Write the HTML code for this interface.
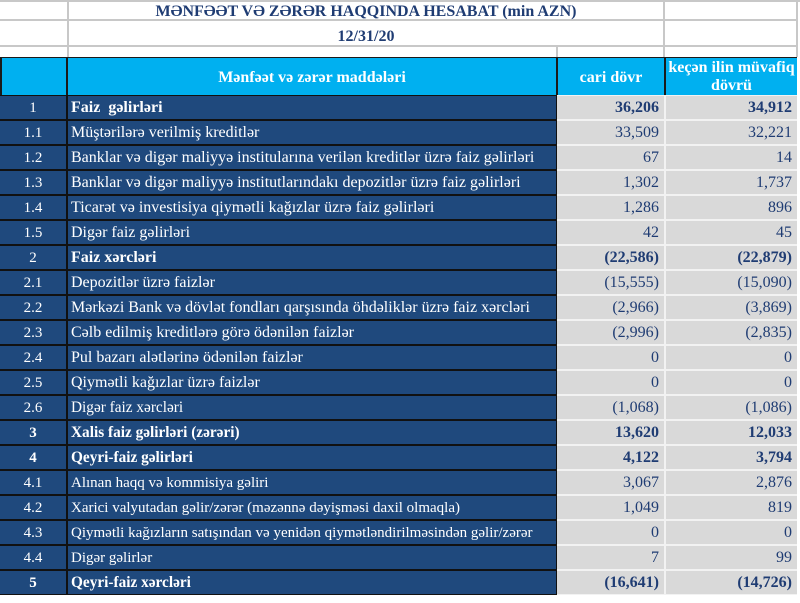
<!DOCTYPE html>
<html><head><meta charset="utf-8"><style>
*{margin:0;padding:0;box-sizing:border-box}
body{width:800px;height:603px;background:#fff;position:relative;overflow:hidden;font-family:"Liberation Serif",serif;}
.a{position:absolute}
.c1,.c2,.c3,.c4{position:absolute;height:23px;line-height:24px;font-size:16px;white-space:nowrap;overflow:hidden}
.c1{left:0;width:66px;background:#1f497d;color:#fff;text-align:center;font-size:15px}
.c2{left:68px;width:488px;background:#1f497d;color:#fff;padding-left:3px}
.c3{left:557px;width:107px;background:#d9d9d9;color:#1f3c73;text-align:right;padding-right:5px}
.c4{left:666px;width:131px;background:#d9d9d9;color:#1f3c73;text-align:right;padding-right:5px}
.b{font-weight:bold}
.s{font-size:15.3px}
.t{font-size:15px}
</style></head><body>
<div class="a" style="left:0;top:0;width:800px;height:2px;background:#c8c8c8"></div>
<div class="a" style="left:0;top:19px;width:797px;height:2px;background:#c8c8c8"></div>
<div class="a" style="left:0;top:45px;width:797px;height:2px;background:#c8c8c8"></div>
<div class="a" style="left:67px;top:0;width:2px;height:57px;background:#c8c8c8"></div>
<div class="a" style="left:663px;top:0;width:2px;height:57px;background:#c8c8c8"></div>
<div class="a" style="left:796px;top:0;width:2px;height:57px;background:#c8c8c8"></div>
<div class="a" style="left:556px;top:46px;width:2px;height:11px;background:#c8c8c8"></div>
<div class="a" style="left:69px;top:3px;width:594px;text-align:center;font-weight:bold;color:#1f3c73;font-size:16px">MƏNFƏƏT VƏ ZƏRƏR HAQQINDA HESABAT (min AZN)</div>
<div class="a" style="left:69px;top:28px;width:594px;text-align:center;font-weight:bold;color:#1f3c73;font-size:16px">12/31/20</div>
<div class="a" style="left:0;top:57px;width:797px;height:38px;background:#1a1a1a"></div>
<div class="a" style="left:2px;top:58px;width:64px;height:37px;background:#00b0f0"></div>
<div class="a" style="left:68px;top:58px;width:488px;height:37px;background:#00b0f0;color:#fff;font-weight:bold;font-size:16px;text-align:center;line-height:40px">Mənfəət və zərər maddələri</div>
<div class="a" style="left:558px;top:58px;width:106px;height:37px;background:#00b0f0;color:#fff;font-weight:bold;font-size:16px;text-align:center;line-height:40px">cari dövr</div>
<div class="a" style="left:666px;top:58px;width:131px;height:37px;background:#00b0f0;color:#fff;font-weight:bold;font-size:16px;text-align:center;line-height:18px;padding-top:1px">keçən ilin müvafiq<br>dövrü</div>
<div class="a" style="left:0;top:95px;width:557px;height:500px;background:#111"></div>
<div class="a" style="left:557px;top:95px;width:240px;height:500px;background:#f2f2f2"></div>

<div style="position:absolute;left:0;top:96px">
<div class="c1" style="top:0">1</div><div class="c2 b" style="top:0">Faiz&nbsp; gəlirləri</div><div class="c3 b" style="top:0">36,206</div><div class="c4 b" style="top:0">34,912</div>
<div class="c1" style="top:25px">1.1</div><div class="c2" style="top:25px">Müştərilərə verilmiş kreditlər</div><div class="c3" style="top:25px">33,509</div><div class="c4" style="top:25px">32,221</div>
<div class="c1" style="top:50px">1.2</div><div class="c2" style="top:50px">Banklar və digər maliyyə institularına verilən kreditlər üzrə faiz gəlirləri</div><div class="c3" style="top:50px">67</div><div class="c4" style="top:50px">14</div>
<div class="c1" style="top:75px">1.3</div><div class="c2" style="top:75px">Banklar və digər maliyyə institutlarındakı depozitlər üzrə faiz gəlirləri</div><div class="c3" style="top:75px">1,302</div><div class="c4" style="top:75px">1,737</div>
<div class="c1" style="top:100px">1.4</div><div class="c2" style="top:100px">Ticarət və investisiya qiymətli kağızlar üzrə faiz gəlirləri</div><div class="c3" style="top:100px">1,286</div><div class="c4" style="top:100px">896</div>
<div class="c1" style="top:125px">1.5</div><div class="c2" style="top:125px">Digər faiz gəlirləri</div><div class="c3" style="top:125px">42</div><div class="c4" style="top:125px">45</div>
<div class="c1" style="top:150px">2</div><div class="c2 b" style="top:150px">Faiz xərcləri</div><div class="c3 b" style="top:150px">(22,586)</div><div class="c4 b" style="top:150px">(22,879)</div>
<div class="c1" style="top:175px">2.1</div><div class="c2" style="top:175px">Depozitlər üzrə faizlər</div><div class="c3" style="top:175px">(15,555)</div><div class="c4" style="top:175px">(15,090)</div>
<div class="c1" style="top:200px">2.2</div><div class="c2" style="top:200px">Mərkəzi Bank və dövlət fondları qarşısında öhdəliklər üzrə faiz xərcləri</div><div class="c3" style="top:200px">(2,966)</div><div class="c4" style="top:200px">(3,869)</div>
<div class="c1" style="top:225px">2.3</div><div class="c2" style="top:225px">Cəlb edilmiş kreditlərə görə ödənilən faizlər</div><div class="c3" style="top:225px">(2,996)</div><div class="c4" style="top:225px">(2,835)</div>
<div class="c1" style="top:250px">2.4</div><div class="c2" style="top:250px">Pul bazarı alətlərinə ödənilən faizlər</div><div class="c3" style="top:250px">0</div><div class="c4" style="top:250px">0</div>
<div class="c1" style="top:275px">2.5</div><div class="c2" style="top:275px">Qiymətli kağızlar üzrə faizlər</div><div class="c3" style="top:275px">0</div><div class="c4" style="top:275px">0</div>
<div class="c1" style="top:300px">2.6</div><div class="c2 s" style="top:300px">Digər faiz xərcləri</div><div class="c3" style="top:300px">(1,068)</div><div class="c4" style="top:300px">(1,086)</div>
<div class="c1 b" style="top:325px">3</div><div class="c2 b s" style="top:325px">Xalis faiz gəlirləri (zərəri)</div><div class="c3 b" style="top:325px">13,620</div><div class="c4 b" style="top:325px">12,033</div>
<div class="c1 b" style="top:350px">4</div><div class="c2 b s" style="top:350px">Qeyri-faiz gəlirləri</div><div class="c3 b" style="top:350px">4,122</div><div class="c4 b" style="top:350px">3,794</div>
<div class="c1" style="top:375px">4.1</div><div class="c2 t" style="top:375px">Alınan haqq və kommisiya gəliri</div><div class="c3" style="top:375px">3,067</div><div class="c4" style="top:375px">2,876</div>
<div class="c1" style="top:400px">4.2</div><div class="c2 t" style="top:400px">Xarici valyutadan gəlir/zərər (məzənnə dəyişməsi daxil olmaqla)</div><div class="c3" style="top:400px">1,049</div><div class="c4" style="top:400px">819</div>
<div class="c1" style="top:425px">4.3</div><div class="c2 t" style="top:425px">Qiymətli kağızların satışından və yenidən qiymətləndirilməsindən gəlir/zərər</div><div class="c3" style="top:425px">0</div><div class="c4" style="top:425px">0</div>
<div class="c1" style="top:450px">4.4</div><div class="c2 t" style="top:450px">Digər gəlirlər</div><div class="c3" style="top:450px">7</div><div class="c4" style="top:450px">99</div>
<div class="c1 b" style="top:475px">5</div><div class="c2 b s" style="top:475px">Qeyri-faiz xərcləri</div><div class="c3 b" style="top:475px">(16,641)</div><div class="c4 b" style="top:475px">(14,726)</div>
</div>
</body></html>
